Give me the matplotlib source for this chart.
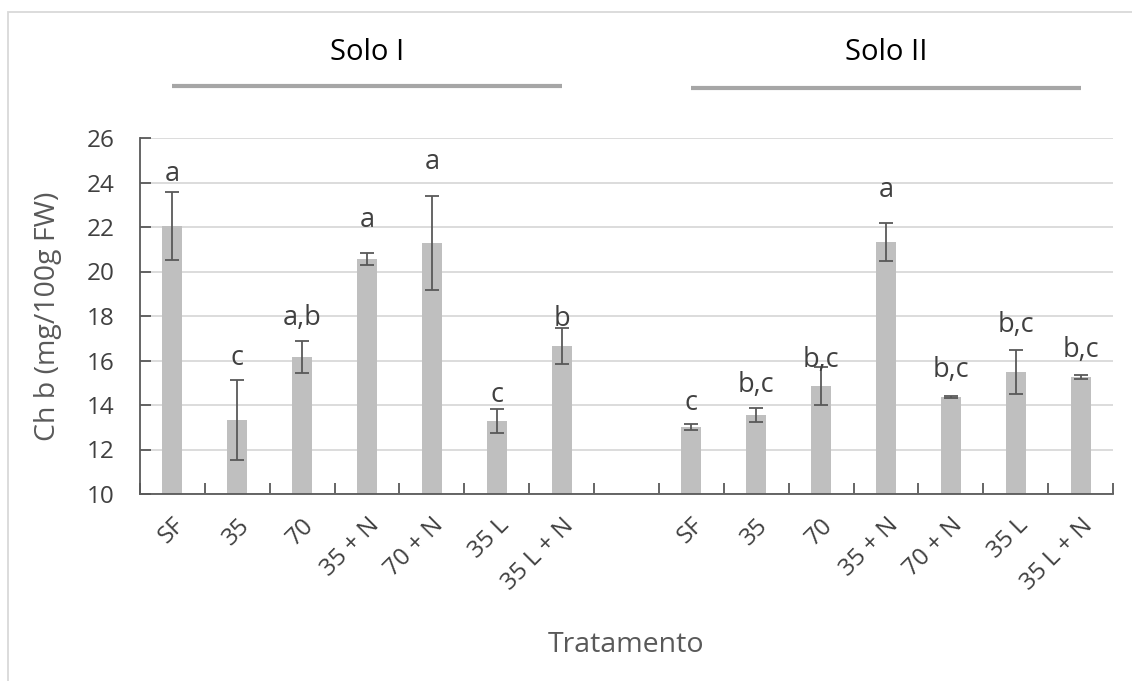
import matplotlib
matplotlib.use("Agg")
import matplotlib.pyplot as plt
import matplotlib.transforms as mtransforms
from matplotlib.patches import Rectangle
import numpy as np

plt.rcParams["font.family"] = ["Open Sans", "DejaVu Sans"]

# ---- data ----
treatments = ["SF", "35", "70", "35 + N", "70 + N", "35 L", "35 L + N"]
groups = ["Solo I", "Solo II"]
solo1_mean = [22.04, 13.33, 16.16, 20.56, 21.28, 13.28, 16.65]
solo1_err = [1.52, 1.80, 0.70, 0.25, 2.10, 0.52, 0.80]
solo2_mean = [13.01, 13.55, 14.85, 21.33, 14.36, 15.48, 15.26]
solo2_err = [0.13, 0.30, 0.85, 0.85, 0.03, 1.00, 0.09]
solo1_letters = ["a", "c", "a,b", "a", "a", "c", "b"]
solo2_letters = ["c", "b,c", "b,c", "a", "b,c", "b,c", "b,c"]
solo1_label_y = [24.38, 16.11, 17.91, 22.31, 24.92, 14.45, 17.87]
solo2_label_y = [14.09, 14.90, 16.02, 23.66, 15.57, 17.60, 16.47]
y_ticks = [10, 12, 14, 16, 18, 20, 22, 24, 26]

# ---- build ----
n = len(treatments)
x1 = np.arange(n)
x2 = np.arange(n) + n + 1
xs = np.concatenate([x1, x2])
means = solo1_mean + solo2_mean
errs = solo1_err + solo2_err
letters = solo1_letters + solo2_letters
label_y = solo1_label_y + solo2_label_y
labels = treatments + [""] + treatments

W, H = 1132, 681
fig = plt.figure(figsize=(W / 100, H / 100), dpi=100)
ax = fig.add_axes([140 / W, 1 - 494 / H, (1113 - 140) / W, (494 - 138) / H])

txt = "#404040"
axc = "#595959"
fs_tick = 17.5
fs_lab = 19.5
fs_title = 20.5
fs_head = 21

ax.bar(xs, np.array(means) - 10, bottom=10, width=0.31, color="#bfbfbf", zorder=2)
ax.errorbar(xs, means, yerr=errs, fmt="none", ecolor="#595959", elinewidth=1.3,
            capsize=5, capthick=1.3, zorder=3)
for x, ly, s in zip(xs, label_y, letters):
    ax.text(x, ly, s, ha="center", va="center", fontsize=fs_lab, color=txt, zorder=4)

ax.set_xlim(-0.5, 2 * n + 0.5)
ax.set_ylim(10, 26)
ax.set_yticks(y_ticks)
ax.yaxis.grid(True, color="#d9d9d9", linewidth=1.3, zorder=0)
ax.set_axisbelow(True)
for s in ["top", "right"]:
    ax.spines[s].set_visible(False)
for s in ["left", "bottom"]:
    ax.spines[s].set_color(axc)
    ax.spines[s].set_linewidth(1.3)

ax.tick_params(axis="y", direction="in", length=8, width=1.3, color=axc,
               labelsize=fs_tick, labelcolor=txt, pad=18)
all_x = np.arange(2 * n + 1)
ax.set_xticks(all_x)
ax.set_xticklabels(labels, rotation=45, ha="right", rotation_mode="anchor")
ax.tick_params(axis="x", which="major", length=0, labelsize=fs_tick, labelcolor=txt, pad=14)
ax.set_xticks(np.arange(-0.5, 2 * n + 1, 1.0), minor=True)
ax.tick_params(axis="x", which="minor", direction="in", length=8, width=1.3, color=axc)

ax.set_ylabel("Ch b (mg/100g FW)", fontsize=fs_title, color=axc, labelpad=18)
ax.set_xlabel("Tratamento", fontsize=fs_title, color=axc, labelpad=26)

# group headers
trans = mtransforms.blended_transform_factory(ax.transData, ax.transAxes)
for g, xx, ly in zip(groups, [x1, x2], [1.146, 1.140]):
    ax.plot([xx[0], xx[-1]], [ly, ly], transform=trans, color="#a6a6a6",
            linewidth=3, clip_on=False, solid_capstyle="butt")
    ax.text((xx[0] + xx[-1]) / 2, 1.239, g, transform=trans, ha="center",
            va="center", fontsize=fs_head, color="black")

# chart area border
fig.add_artist(Rectangle((8 / W, -0.1), 1.2, 1 - 12 / H + 0.1, transform=fig.transFigure,
                         fill=False, edgecolor="#d9d9d9", linewidth=1.3))

fig.savefig("out.png", dpi=100)
